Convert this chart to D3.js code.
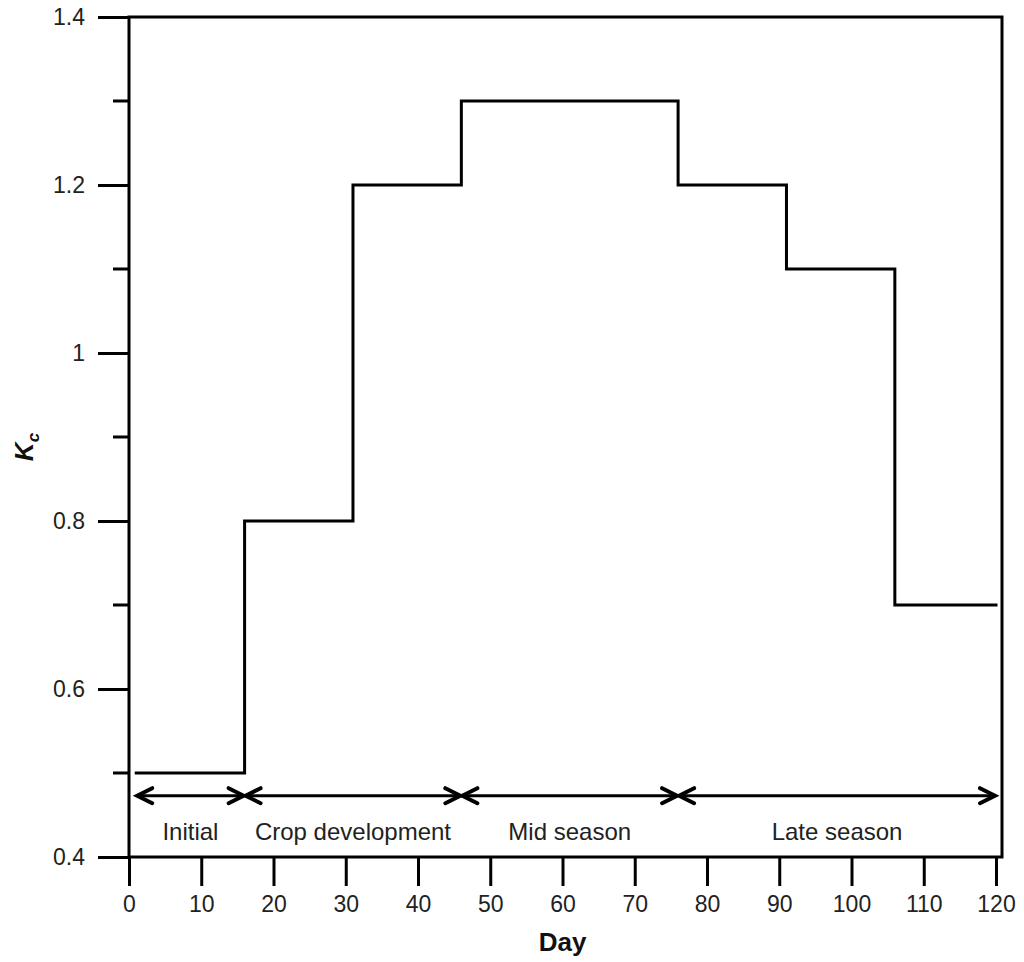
<!DOCTYPE html>
<html>
<head>
<meta charset="utf-8">
<script src="https://cdn.jsdelivr.net/npm/d3@7"></script>
<style>
  body { margin: 0; background: #fff; }
  svg text { font-family: "Liberation Sans", Arial, sans-serif; fill: #222; }
</style>
</head>
<body>
<div id="chart"></div>
<script>
// Crop coefficient steps: start day of each step and its Kc value
const stepDays = [1, 16, 31, 46, 76, 91, 106, 120];
const stepKc = [0.5, 0.8, 1.2, 1.3, 1.2, 1.1, 0.7];

// Growth stages (start day, end day, label)
const stageStart = [1, 16, 46, 76];
const stageEnd = [16, 46, 76, 120];
const stageNames = ['Initial', 'Crop development', 'Mid season', 'Late season'];
const stageArrowKc = 0.473;
const stageLabelKc = 0.43;

const xTicks = [0, 10, 20, 30, 40, 50, 60, 70, 80, 90, 100, 110, 120];
const yMajor = [0.4, 0.6, 0.8, 1, 1.2, 1.4];
const yMinor = [0.5, 0.7, 0.9, 1.1, 1.3];

const W = 1024;
const H = 962;
const margin = { top: 17, right: 28, bottom: 105, left: 129 };

const svg = d3.select('#chart').append('svg')
    .attr('width', W)
    .attr('height', H);

const x = d3.scaleLinear().domain([0, 120]).range([margin.left, W - margin.right]);
const y = d3.scaleLinear().domain([0.4, 1.4]).range([H - margin.bottom, margin.top]);

// frame
svg.append('rect')
    .attr('x', x(0))
    .attr('y', y(1.4))
    .attr('width', x(120) + 6 - x(0))
    .attr('height', y(0.4) - y(1.4))
    .attr('fill', 'none')
    .attr('stroke', '#000')
    .attr('stroke-width', 3);

// x axis
const xAxis = d3.axisBottom(x)
    .tickValues(xTicks)
    .tickSize(29)
    .tickPadding(10)
    .tickSizeOuter(0);
const gx = svg.append('g')
    .attr('transform', `translate(0,${y(0.4)})`)
    .call(xAxis);
gx.select('.domain').remove();
gx.selectAll('line').attr('stroke', '#000').attr('stroke-width', 3);
gx.selectAll('text')
    .style('font-size', '23px')
    .attr('fill', '#222');

// y axis, major and minor ticks
const yAxis = d3.axisLeft(y)
    .tickValues(yMajor)
    .tickSize(31)
    .tickPadding(13)
    .tickFormat(d3.format('~g'));
const gy = svg.append('g')
    .attr('transform', `translate(${x(0)},0)`)
    .call(yAxis);
gy.select('.domain').remove();
gy.selectAll('line').attr('stroke', '#000').attr('stroke-width', 3);
gy.selectAll('text')
    .style('font-size', '23px')
    .attr('fill', '#222');

svg.append('g')
  .selectAll('line')
    .data(yMinor)
  .enter().append('line')
    .attr('x1', x(0) - 16)
    .attr('x2', x(0))
    .attr('y1', d => y(d))
    .attr('y2', d => y(d))
    .attr('stroke', '#000')
    .attr('stroke-width', 3);

// step line
const stepData = stepKc.map((k, i) => ({ day: stepDays[i], kc: k }));
stepData.push({ day: stepDays[stepDays.length - 1], kc: stepKc[stepKc.length - 1] });
const line = d3.line()
    .x(d => x(d.day))
    .y(d => y(d.kc))
    .curve(d3.curveStepAfter);
svg.append('path')
    .datum(stepData)
    .attr('d', line)
    .attr('fill', 'none')
    .attr('stroke', '#000')
    .attr('stroke-width', 3)
    .attr('stroke-linejoin', 'miter')
    .attr('stroke-linecap', 'square');

// stage arrows
const stages = stageNames.map((n, i) => ({ name: n, start: stageStart[i], end: stageEnd[i] }));
const ay = y(stageArrowKc);
const g = svg.append('g')
  .selectAll('g')
    .data(stages)
  .enter().append('g');

g.append('line')
    .attr('x1', d => x(d.start) + 1)
    .attr('x2', d => x(d.end) - 1)
    .attr('y1', ay)
    .attr('y2', ay)
    .attr('stroke', '#000')
    .attr('stroke-width', 3);

// open chevron heads at both ends
g.append('path')
    .attr('d', d => {
      const a = x(d.start) + 1;
      const b = x(d.end) - 1;
      return `M${a + 15},${ay - 7.5}L${a},${ay}L${a + 15},${ay + 7.5}` +
        `M${b - 15},${ay - 7.5}L${b},${ay}L${b - 15},${ay + 7.5}`;
    })
    .attr('fill', 'none')
    .attr('stroke', '#000')
    .attr('stroke-width', 4)
    .attr('stroke-linejoin', 'miter')
    .attr('stroke-linecap', 'round');

g.append('text')
    .attr('x', d => x((d.start + d.end) / 2))
    .attr('y', y(stageLabelKc))
    .attr('dy', '0.35em')
    .attr('text-anchor', 'middle')
    .style('font-size', '24px')
    .text(d => d.name);

// axis titles
svg.append('text')
    .attr('x', x(60))
    .attr('y', 951)
    .attr('text-anchor', 'middle')
    .style('font-size', '26px')
    .style('font-weight', 'bold')
    .style('fill', '#111')
    .text('Day');

const yt = svg.append('text')
    .attr('transform', `translate(33,${y(0.9) + 10}) rotate(-90)`)
    .attr('text-anchor', 'middle')
    .style('font-size', '26px')
    .style('font-weight', 'bold')
    .style('font-style', 'italic')
    .style('fill', '#111');
yt.append('tspan').text('K');
yt.append('tspan')
    .attr('dy', 6)
    .style('font-size', '17px')
    .text('c');
</script>
</body>
</html>
